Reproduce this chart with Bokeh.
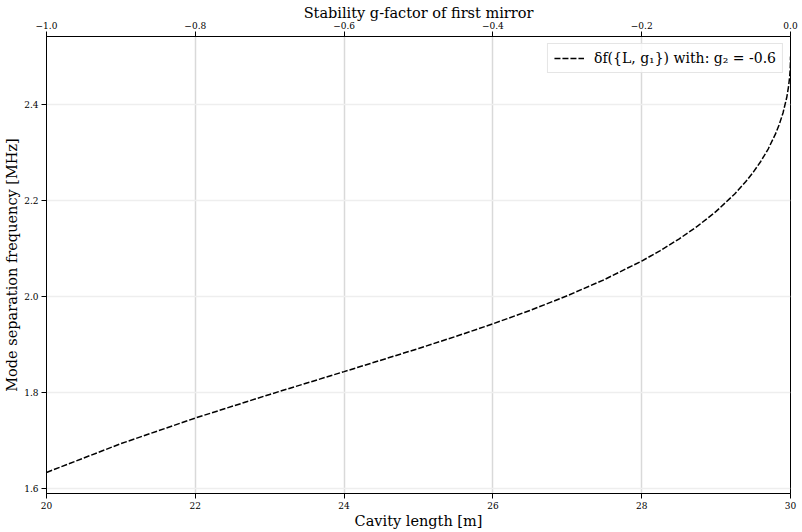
from bokeh.plotting import figure
from bokeh.models import Range1d, LinearAxis, FixedTicker, Legend, LegendItem
from bokeh.embed import file_html
from bokeh.resources import INLINE

# Data
cavity_length = [20.0, 21.0, 22.0, 23.0, 24.0, 25.0, 25.5, 26.0, 26.5, 27.0, 27.5,
                 28.0, 28.25, 28.5, 28.75, 29.0, 29.25, 29.4, 29.5, 29.6, 29.7,
                 29.8, 29.85, 29.9, 29.95, 29.975, 29.99, 29.995, 29.999, 30.0]
mode_separation = [1.6335, 1.6935, 1.7468, 1.7960, 1.8435, 1.8917, 1.9168, 1.9431,
                   1.9711, 2.0016, 2.0354, 2.0739, 2.0957, 2.1197, 2.1465, 2.1773,
                   2.2136, 2.2395, 2.2591, 2.2813, 2.3073, 2.3393, 2.3589, 2.3829,
                   2.4151, 2.4387, 2.4601, 2.4711, 2.4860, 2.5000]
g2_value = "-0.6"

x_ticks = [20, 22, 24, 26, 28, 30]
y_ticks = [1.6, 1.8, 2.0, 2.2, 2.4]
g1_ticks = [-1.0, -0.8, -0.6, -0.4, -0.2, 0.0]
g1_tick_labels = ["\u22121.0", "\u22120.8", "\u22120.6", "\u22120.4", "\u22120.2", "0.0"]

FONT = "DejaVu Serif"

p = figure(width=802, height=532, output_backend="svg", toolbar_location=None,
           x_range=Range1d(20, 30), y_range=Range1d(1.5896, 2.5417),
           x_axis_label="Cavity length [m]",
           y_axis_label="Mode separation frequency [MHz]")
p.min_border_left = 46
p.min_border_right = 12
p.min_border_top = 36
p.min_border_bottom = 39
p.outline_line_color = "black"
p.outline_line_alpha = 1.0
p.outline_line_width = 1
p.background_fill_color = "white"
p.border_fill_color = "white"

p.extra_x_ranges = {"g1": Range1d(-1.0, 0.0)}
top_axis = LinearAxis(x_range_name="g1", axis_label="Stability g-factor of first mirror")
top_axis.ticker = FixedTicker(ticks=g1_ticks)
top_axis.major_label_overrides = {t: l for t, l in zip(g1_ticks, g1_tick_labels)}
p.add_layout(top_axis, "above")

bottom_axis = p.below[0]
left_axis = p.left[0]
bottom_axis.ticker = FixedTicker(ticks=x_ticks)
left_axis.ticker = FixedTicker(ticks=y_ticks)
left_axis.major_label_overrides = {t: f"{t:.1f}" for t in y_ticks}

for ax in [bottom_axis, left_axis, top_axis]:
    ax.axis_line_color = "black"
    ax.major_tick_line_color = "black"
    ax.minor_tick_line_color = None
    ax.major_tick_out = 5
    ax.major_tick_in = 0
    ax.major_label_standoff = 3
    ax.major_label_text_font = FONT
    ax.major_label_text_font_size = "9px"
    ax.major_label_text_color = "black"
    ax.axis_label_text_font = FONT
    ax.axis_label_text_font_size = "14.5px"
    ax.axis_label_text_font_style = "normal"
    ax.axis_label_text_color = "black"

top_axis.major_label_standoff = 3
top_axis.axis_label_standoff = -2
bottom_axis.axis_label_standoff = 1
left_axis.axis_label_standoff = 1

p.xgrid.grid_line_color = "#d9d9d9"
p.xgrid.grid_line_width = 1.5
p.xgrid.ticker = FixedTicker(ticks=x_ticks)
p.ygrid.grid_line_color = "#eeeeee"
p.ygrid.grid_line_width = 1.5
p.ygrid.ticker = FixedTicker(ticks=y_ticks)

r = p.line(cavity_length, mode_separation, line_color="black", line_width=1.5,
           line_dash="6 2")

legend = Legend(items=[LegendItem(label=f"\u03b4f({{L, g\u2081}}) with: g\u2082 = {g2_value}",
                                  renderers=[r])],
                location="top_right")
legend.label_text_font = FONT
legend.label_text_font_size = "14px"
legend.label_text_color = "black"
legend.border_line_color = "#cccccc"
legend.border_line_width = 1
legend.background_fill_alpha = 0.8
legend.margin = 7
legend.padding = 6
legend.glyph_width = 30
legend.glyph_height = 16
legend.label_standoff = 10
legend.spacing = 0
p.add_layout(legend)

open("out.html", "w").write(file_html(p, INLINE))
